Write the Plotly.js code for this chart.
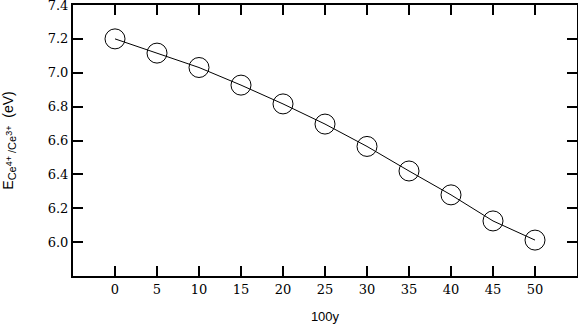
<!DOCTYPE html>
<html>
<head>
<meta charset="utf-8">
<script src="https://cdn.plot.ly/plotly-3.0.1.min.js"></script>
<style>html,body{margin:0;padding:0;background:#fff;}#chart{width:578px;height:327px;}</style>
</head>
<body>
<div id="chart"></div>
<script>
const xValues = [0, 5, 10, 15, 20, 25, 30, 35, 40, 45, 50];
const yValues = [7.200, 7.116, 7.031, 6.927, 6.816, 6.697, 6.565, 6.420, 6.279, 6.125, 6.012];
const xTicks = [0, 5, 10, 15, 20, 25, 30, 35, 40, 45, 50];
const yTicks = [6.0, 6.2, 6.4, 6.6, 6.8, 7.0, 7.2, 7.4];
const yTickText = ['6.0', '6.2', '6.4', '6.6', '6.8', '7.0', '7.2', '7.4'];

const trace = {
  x: xValues, y: yValues, type: 'scatter', mode: 'lines+markers',
  line: {color: '#000', width: 1},
  marker: {symbol: 'circle-open', size: 20, color: '#000', line: {width: 1, color: '#000'}},
  hoverinfo: 'none'
};
const tickFont = {family: "'DejaVu Serif', serif", size: 13, color: '#000'};
const yTitle = 'E<sub><span style="font-size:11px">Ce</span><sup><span style="font-size:9px">4+</span></sup>' +
  '<span style="font-size:11px"> /Ce</span><sup><span style="font-size:9px">3+</span></sup></sub>  (eV)';
const layout = {
  width: 578, height: 327,
  margin: {l: 73, r: 1, t: 5, b: 51, pad: 0},
  paper_bgcolor: '#fff', plot_bgcolor: '#fff',
  showlegend: false,
  xaxis: {
    range: [-5, 55], tickvals: xTicks, ticktext: xTicks.map(String),
    ticks: 'inside', ticklen: 10, tickwidth: 2, tickcolor: '#000',
    showline: true, linewidth: 2, linecolor: '#000', mirror: 'ticks',
    showgrid: false, zeroline: false, tickfont: tickFont, ticklabeloverflow: 'allow',
    title: {text: '100y', font: {family: "'Liberation Sans', Arial, sans-serif", size: 13, color: '#000'}, standoff: 16}
  },
  yaxis: {
    range: [5.8, 7.4], tickvals: yTicks, ticktext: yTickText,
    ticks: 'inside', ticklen: 10, tickwidth: 2, tickcolor: '#000',
    showline: true, linewidth: 2, linecolor: '#000', mirror: 'ticks',
    showgrid: false, zeroline: false, tickfont: tickFont, ticklabeloverflow: 'allow',
    title: {text: yTitle, font: {family: "'Liberation Sans', Arial, sans-serif", size: 14, color: '#000'}, standoff: 32}
  }
};
Plotly.newPlot('chart', [trace], layout, {staticPlot: true, displayModeBar: false});
</script>
</body>
</html>
